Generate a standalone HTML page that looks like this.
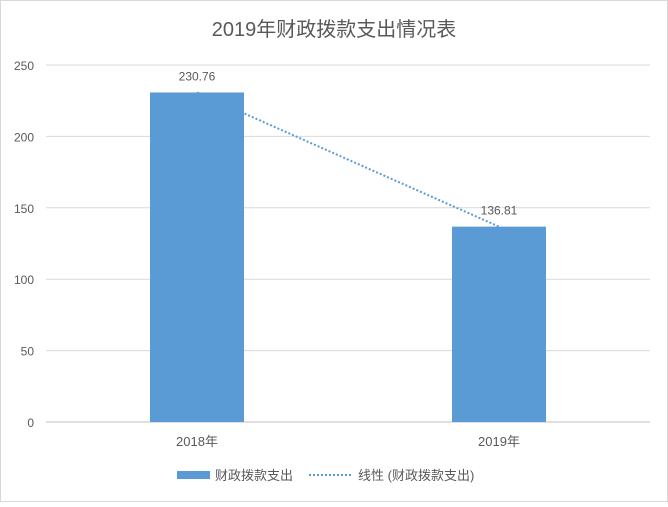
<!DOCTYPE html>
<html><head><meta charset="utf-8"><style>
html,body{margin:0;padding:0;background:#fff}
svg text{font-family:"Liberation Sans","Noto Sans CJK SC",sans-serif;fill:#595959}
</style></head><body>
<svg width="668" height="502" xmlns="http://www.w3.org/2000/svg">
<rect x="0.5" y="0.5" width="667" height="501" fill="#fff" stroke="#d9d9d9"/>
<text x="334" y="36" font-size="20" text-anchor="middle">2019年财政拨款支出情况表</text>
<g id="grid"></g><g id="bars"></g><g id="trend"></g><g id="labels"></g>
<g>
<rect x="177" y="471" width="33" height="8" fill="#5b9bd5"/>
<text x="215" y="480" font-size="13">财政拨款支出</text>
<line x1="309" y1="475" x2="352" y2="475" stroke="#5b9bd5" stroke-width="2" stroke-dasharray="2,2"/>
<text x="358" y="480" font-size="13">线性 (财政拨款支出)</text>
</g>
</svg>
<script>
const categories=["2018年","2019年"];
const values=[230.76,136.81];
const valueLabels=["230.76","136.81"];
const ticks=[0,50,100,150,200,250];
const NS="http://www.w3.org/2000/svg";
const x0=46,x1=650,y0=422,yTop=65,maxV=250;
const yS=v=>y0-(y0-yTop)*v/maxV;
const band=(x1-x0)/categories.length;
const xC=i=>x0+band*(i+0.5);
function mk(t,a,p){const e=document.createElementNS(NS,t);for(const k in a)e.setAttribute(k,a[k]);p.appendChild(e);return e;}
const g=document.getElementById('grid');
ticks.forEach(t=>{
 const l=mk('line',{x1:x0,x2:x1,y1:yS(t),y2:yS(t),stroke:t===0?'#bfbfbf':'#d9d9d9'},g);
 
 
 const tx=mk('text',{x:34,y:yS(t)+5,'font-size':12,'text-anchor':'end'},g);tx.textContent=t;
 
 
});
const b=document.getElementById('bars'),lb=document.getElementById('labels');
const bw=94;
values.forEach((v,i)=>{
 const r=mk('rect',{x:xC(i)-bw/2,y:yS(v),width:bw,height:y0-yS(v),fill:'#5b9bd5'},b);
 
 
 const t=mk('text',{x:xC(i),y:yS(v)-12,'font-size':12,'text-anchor':'middle'},lb);t.textContent=valueLabels[i];
 
 
 const c=mk('text',{x:xC(i),y:446,'font-size':13,'text-anchor':'middle'},lb);c.textContent=categories[i];
 
 
});
// linear trend (least squares on index)
const n=values.length,mx=(n-1)/2,my=values.reduce((a,c)=>a+c,0)/n;
let num=0,den=0;values.forEach((v,i)=>{num+=(i-mx)*(v-my);den+=(i-mx)**2;});
const sl=den?num/den:0,ic=my-sl*mx;
const tl=mk('line',{x1:xC(0),y1:yS(ic),x2:xC(n-1),y2:yS(ic+sl*(n-1)),stroke:'#5b9bd5','stroke-width':2,'stroke-dasharray':'2,2'},document.getElementById('trend'));


</script>
</body></html>
